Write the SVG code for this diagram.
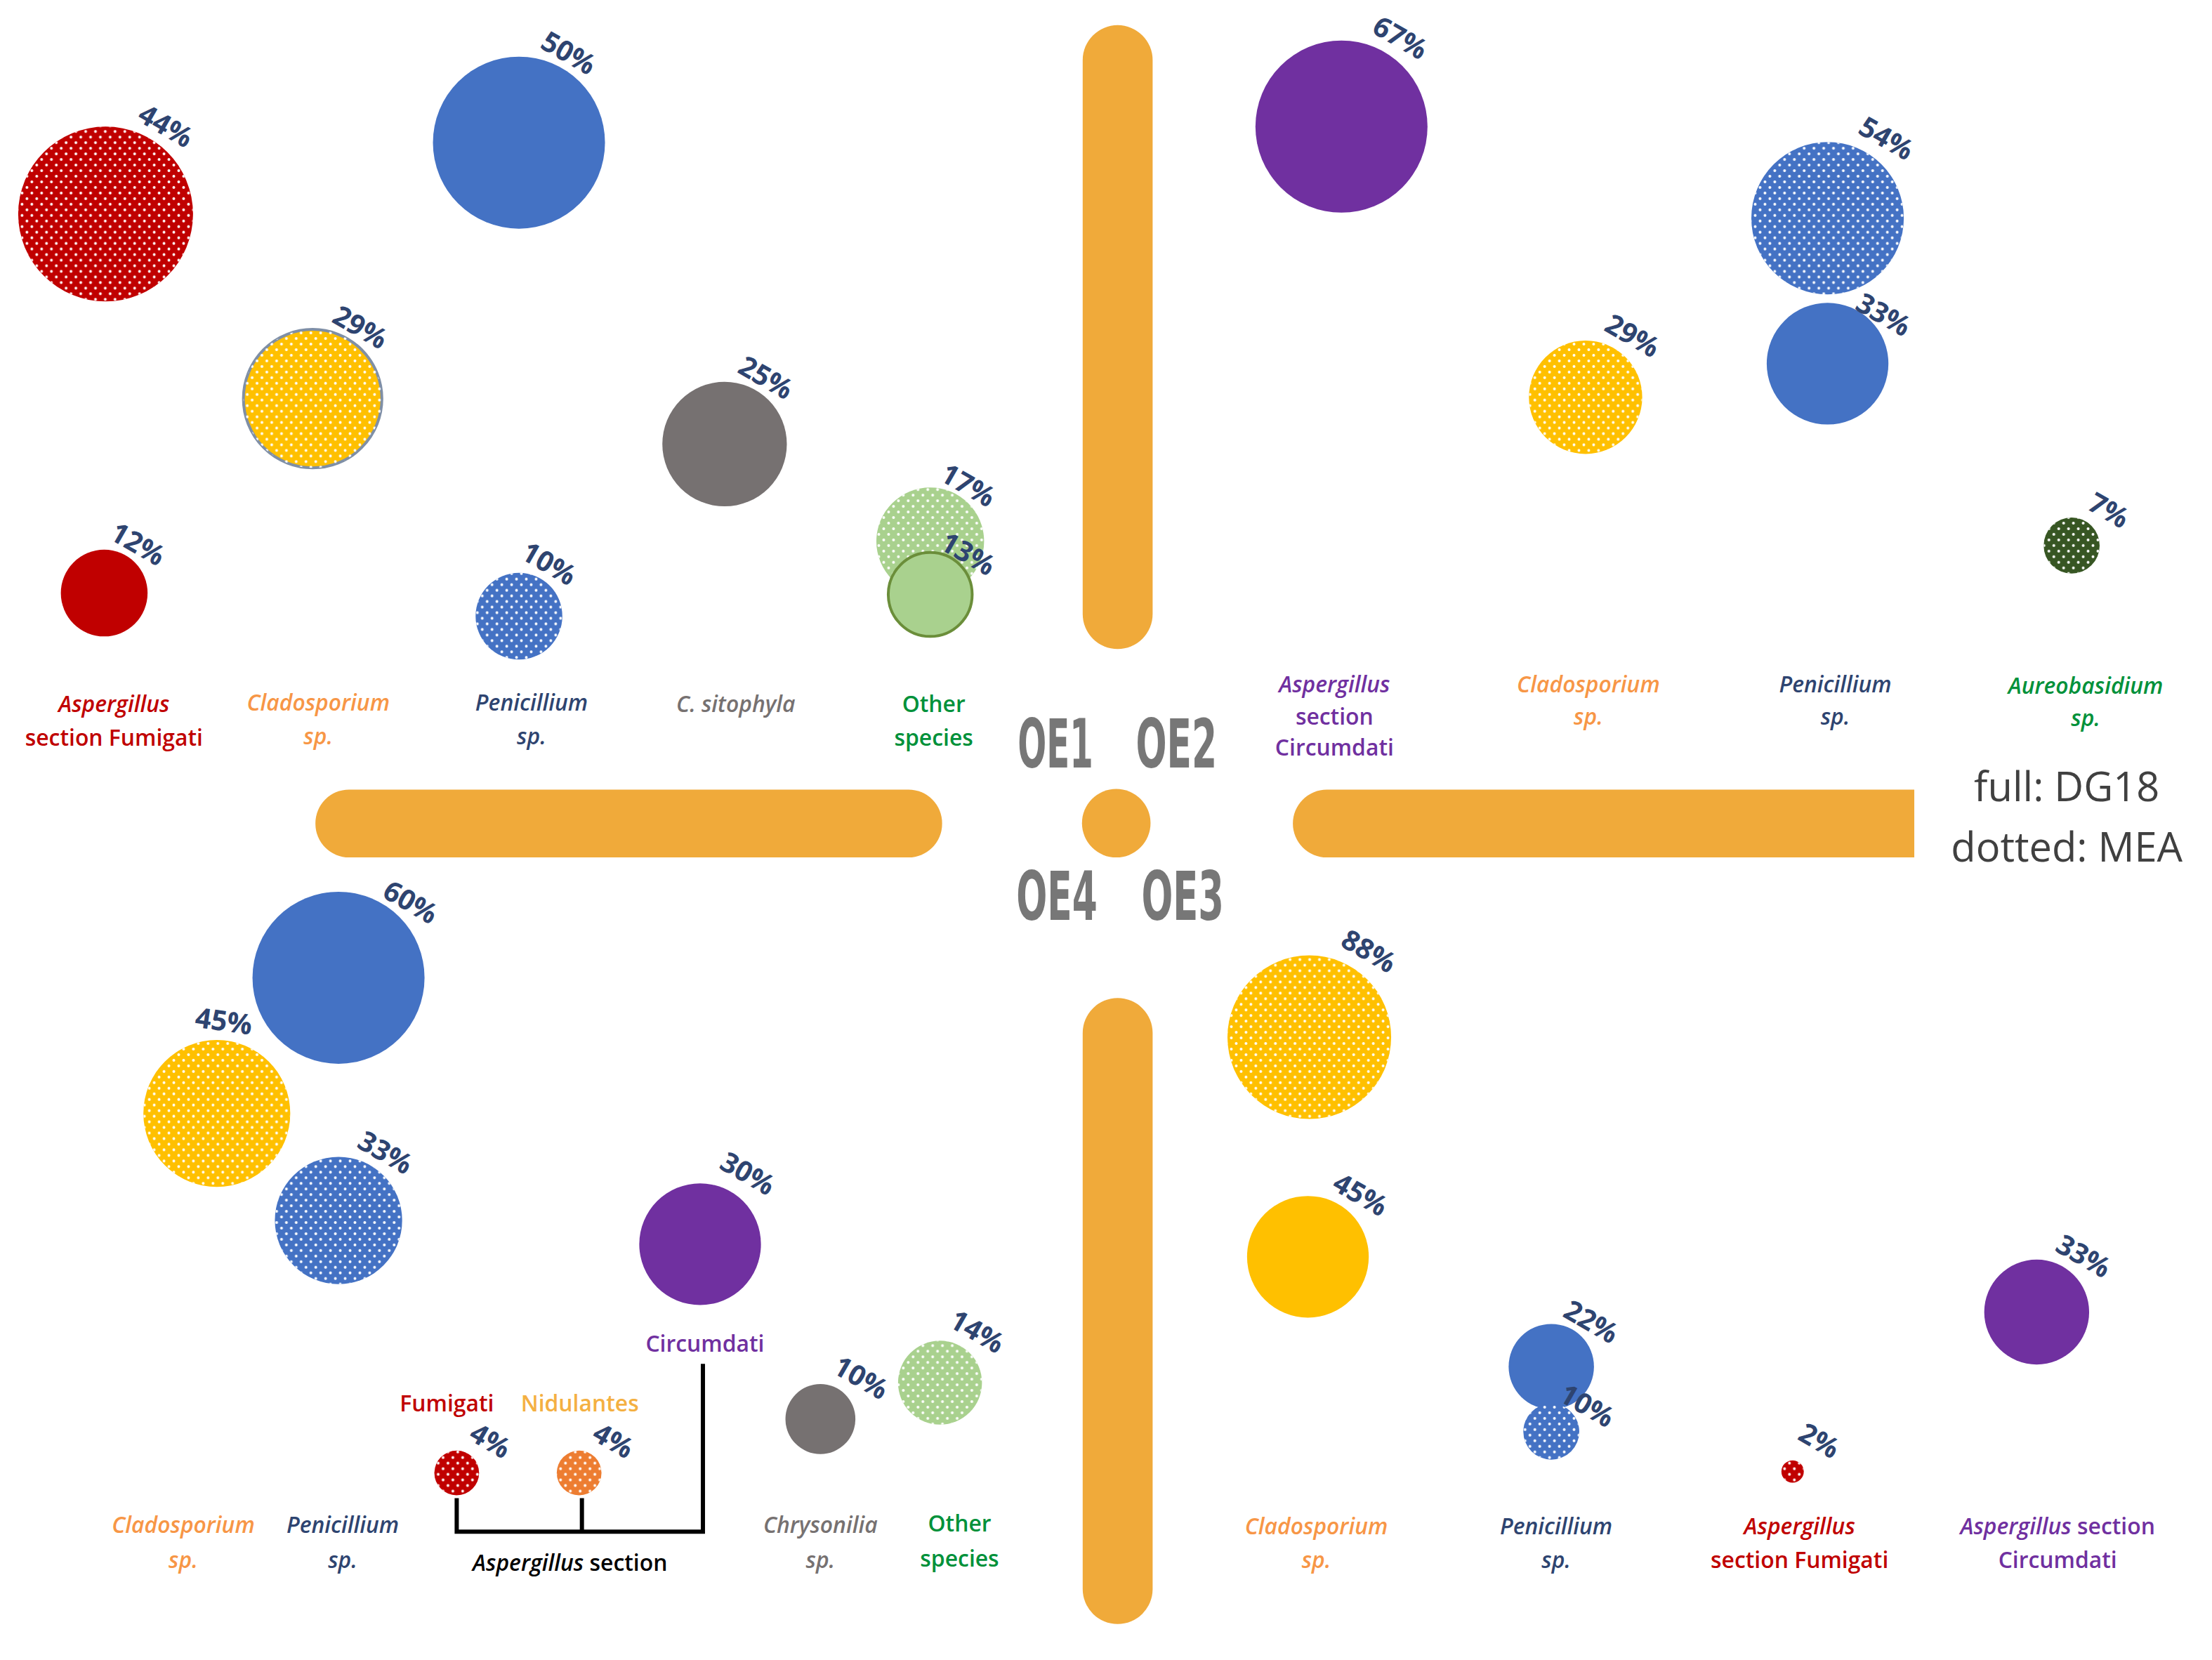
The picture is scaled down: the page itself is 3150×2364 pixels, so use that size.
<svg xmlns="http://www.w3.org/2000/svg" width="3150" height="2364" viewBox="0 0 3150 2364">
<defs>
<pattern id="dots" width="14" height="16" patternUnits="userSpaceOnUse">
<circle cx="3.5" cy="4" r="2" fill="#fff"/><circle cx="10.5" cy="12" r="2" fill="#fff"/>
</pattern>
<style>
.p{font-family:"Open Sans","Liberation Sans",sans-serif;font-weight:bold;font-size:40px;fill:#2E4470;text-anchor:middle}
.l{font-family:"Open Sans","Liberation Sans",sans-serif;font-weight:600;font-size:32px;text-anchor:middle}
.i{font-style:italic}
.oe{font-family:"DejaVu Sans Condensed","DejaVu Sans",sans-serif;font-weight:bold;font-size:96px;fill:#777}
.bar{fill:#F0AA3A}
.dot{fill:url(#dots)}
.red{fill:#C00000}.blue{fill:#4472C4}.yel{fill:#FFC000}.gray{fill:#767171}.pur{fill:#7030A0}.lg{fill:#A9D18E}.dg{fill:#375623}.or{fill:#ED7D31}
.tred{fill:#C00000}.tor{fill:#F79646}.tnavy{fill:#2E4470}.tgray{fill:#767171}.tgreen{fill:#00913A}.tpur{fill:#7030A0}.tblk{fill:#000}.tor2{fill:#F4B042}
</style>
</defs>
<rect width="3150" height="2364" fill="#fff"/>
<g transform="scale(0.996)">
<g id="axes">
<rect class="bar" x="1548" y="36" width="100" height="892" rx="50"/>
<rect class="bar" x="1548" y="1427" width="100" height="895" rx="50"/>
<rect class="bar" x="451" y="1129" width="896" height="97" rx="48"/>
<path class="bar" d="M1897 1129 H2737 V1226 H1897 A48 48 0 0 1 1897 1129 Z"/>
<circle class="bar" cx="1596" cy="1177" r="49"/>
<text class="oe" x="1455" y="1097" textLength="108" lengthAdjust="spacingAndGlyphs">OE1</text>
<text class="oe" x="1624" y="1097" textLength="116" lengthAdjust="spacingAndGlyphs">OE2</text>
<text class="oe" x="1453" y="1315" textLength="116" lengthAdjust="spacingAndGlyphs">OE4</text>
<text class="oe" x="1632" y="1315" textLength="118" lengthAdjust="spacingAndGlyphs">OE3</text>
</g>
<g id="legend" font-family="Open Sans, Liberation Sans, sans-serif" font-size="58" fill="#404040" text-anchor="middle">
<text x="2955" y="1146">full: DG18</text>
<text x="2955" y="1232">dotted: MEA</text>
</g>
<g id="oe1">
<circle class="red" cx="151" cy="306" r="125"/><circle class="dot" cx="151" cy="306" r="125"/>
<text class="p" transform="translate(230,192) rotate(30)">44%</text>
<circle class="blue" cx="742" cy="204" r="123"/>
<text class="p" transform="translate(806,88) rotate(30)">50%</text>
<circle class="yel" cx="447" cy="570" r="99" stroke="#7F8FA6" stroke-width="4"/><circle class="dot" cx="447" cy="570" r="99"/>
<text class="p" transform="translate(508,480) rotate(30)">29%</text>
<circle class="gray" cx="1036" cy="635" r="89"/>
<text class="p" transform="translate(1088,552) rotate(30)">25%</text>
<circle class="red" cx="149" cy="848" r="62"/>
<text class="p" transform="translate(190,790) rotate(30)">12%</text>
<circle class="blue" cx="742" cy="881" r="62"/><circle class="dot" cx="742" cy="881" r="62"/>
<text class="p" transform="translate(778,818) rotate(30)">10%</text>
<circle class="lg" cx="1330" cy="774" r="77"/><circle class="dot" cx="1330" cy="774" r="77"/>
<text class="p" transform="translate(1377,706) rotate(30)">17%</text>
<circle class="lg" cx="1330" cy="850" r="60" stroke="#6B8E3A" stroke-width="4"/>
<text class="p" transform="translate(1377,804) rotate(30)">13%</text>
<text class="l i tred" x="163" y="1018">Aspergillus</text>
<text class="l tred" x="163" y="1066">section Fumigati</text>
<text class="l i tor" x="455" y="1016">Cladosporium</text>
<text class="l i tor" x="455" y="1064">sp.</text>
<text class="l i tnavy" x="760" y="1016">Penicillium</text>
<text class="l i tnavy" x="760" y="1064">sp.</text>
<text class="l i tgray" x="1052" y="1018">C. sitophyla</text>
<text class="l tgreen" x="1335" y="1018">Other</text>
<text class="l tgreen" x="1335" y="1066">species</text>
</g>
<g id="oe2">
<circle class="pur" cx="1918" cy="181" r="123"/>
<text class="p" transform="translate(1995,66) rotate(30)">67%</text>
<circle class="blue" cx="2613" cy="312" r="109"/><circle class="dot" cx="2613" cy="312" r="109"/>
<text class="p" transform="translate(2690,210) rotate(30)">54%</text>
<circle class="blue" cx="2613" cy="520" r="87"/>
<text class="p" transform="translate(2686,462) rotate(30)">33%</text>
<circle class="yel" cx="2267" cy="568" r="81"/><circle class="dot" cx="2267" cy="568" r="81"/>
<text class="p" transform="translate(2327,492) rotate(30)">29%</text>
<circle class="dg" cx="2962" cy="780" r="40"/><circle class="dot" cx="2962" cy="780" r="40"/>
<text class="p" transform="translate(3008,742) rotate(30)">7%</text>
<text class="l i tpur" x="1908" y="990">Aspergillus</text>
<text class="l tpur" x="1908" y="1036">section</text>
<text class="l tpur" x="1908" y="1080">Circumdati</text>
<text class="l i tor" x="2271" y="990">Cladosporium</text>
<text class="l i tor" x="2271" y="1036">sp.</text>
<text class="l i tnavy" x="2624" y="990">Penicillium</text>
<text class="l i tnavy" x="2624" y="1036">sp.</text>
<text class="l i tgreen" x="2982" y="992">Aureobasidium</text>
<text class="l i tgreen" x="2982" y="1038">sp.</text>
</g>
<g id="oe4">
<circle class="blue" cx="484" cy="1398" r="123"/>
<text class="p" transform="translate(580,1302) rotate(30)">60%</text>
<circle class="yel" cx="310" cy="1592" r="105"/><circle class="dot" cx="310" cy="1592" r="105"/>
<text class="p" transform="translate(318,1474) rotate(8)">45%</text>
<circle class="blue" cx="484" cy="1745" r="91"/><circle class="dot" cx="484" cy="1745" r="91"/>
<text class="p" transform="translate(544,1660) rotate(30)">33%</text>
<circle class="pur" cx="1001" cy="1779" r="87"/>
<text class="p" transform="translate(1062,1690) rotate(30)">30%</text>
<circle class="gray" cx="1173" cy="2029" r="50"/>
<text class="p" transform="translate(1224,1982) rotate(30)">10%</text>
<circle class="lg" cx="1344" cy="1977" r="60"/><circle class="dot" cx="1344" cy="1977" r="60"/>
<text class="p" transform="translate(1390,1916) rotate(30)">14%</text>
<circle class="red" cx="653" cy="2106" r="32"/><circle class="dot" cx="653" cy="2106" r="32"/>
<text class="p" transform="translate(694,2072) rotate(30)">4%</text>
<circle class="or" cx="828" cy="2106" r="32"/><circle class="dot" cx="828" cy="2106" r="32"/>
<text class="p" transform="translate(870,2072) rotate(30)">4%</text>
<text class="l tpur" x="1008" y="1933">Circumdati</text>
<text class="l tred" x="639" y="2018">Fumigati</text>
<text class="l tor2" x="829" y="2018">Nidulantes</text>
<text class="l tblk" x="815" y="2246"><tspan font-style="italic">Aspergillus</tspan> section</text>
<text class="l i tor" x="262" y="2192">Cladosporium</text>
<text class="l i tor" x="262" y="2242">sp.</text>
<text class="l i tnavy" x="490" y="2192">Penicillium</text>
<text class="l i tnavy" x="490" y="2242">sp.</text>
<text class="l i tgray" x="1173" y="2192">Chrysonilia</text>
<text class="l i tgray" x="1173" y="2242">sp.</text>
<text class="l tgreen" x="1372" y="2190">Other</text>
<text class="l tgreen" x="1372" y="2240">species</text>
</g>
<g id="connectors" fill="none" stroke="#000" stroke-width="6">
<path d="M653 2142 V2190 H1005 V1950 M832 2142 V2190"/>
</g>
<g id="oe3">
<circle class="yel" cx="1872" cy="1483" r="117"/><circle class="dot" cx="1872" cy="1483" r="117"/>
<text class="p" transform="translate(1950,1372) rotate(30)">88%</text>
<circle class="yel" cx="1870" cy="1797" r="87"/>
<text class="p" transform="translate(1938,1720) rotate(30)">45%</text>
<circle class="blue" cx="2218" cy="1954" r="61"/>
<text class="p" transform="translate(2268,1902) rotate(30)">22%</text>
<circle class="blue" cx="2218" cy="2047" r="40"/><circle class="dot" cx="2218" cy="2047" r="40"/>
<text class="p" transform="translate(2262,2022) rotate(30)">10%</text>
<circle class="red" cx="2563" cy="2104" r="16"/><circle class="dot" cx="2563" cy="2104" r="16"/>
<text class="p" transform="translate(2594,2072) rotate(30)">2%</text>
<circle class="pur" cx="2912" cy="1876" r="75"/>
<text class="p" transform="translate(2972,1808) rotate(30)">33%</text>
<text class="l i tor" x="1882" y="2194">Cladosporium</text>
<text class="l i tor" x="1882" y="2242">sp.</text>
<text class="l i tnavy" x="2225" y="2194">Penicillium</text>
<text class="l i tnavy" x="2225" y="2242">sp.</text>
<text class="l i tred" x="2573" y="2194">Aspergillus</text>
<text class="l tred" x="2573" y="2242">section Fumigati</text>
<text class="l tpur" x="2942" y="2194"><tspan font-style="italic">Aspergillus</tspan> section</text>
<text class="l tpur" x="2942" y="2242">Circumdati</text>
</g>
</g>
</svg>
